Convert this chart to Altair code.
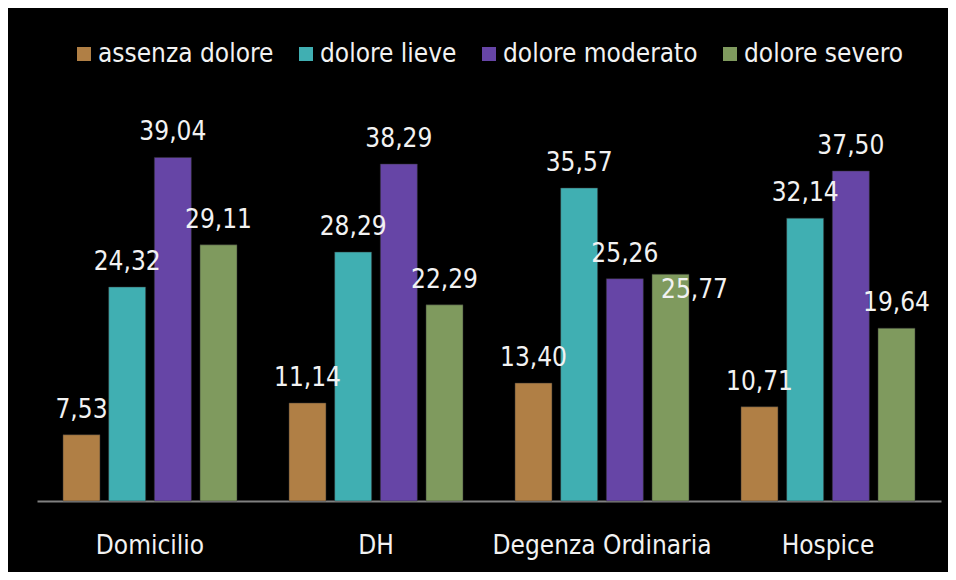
import altair as alt
import pandas as pd

categories = ["Domicilio", "DH", "Degenza Ordinaria", "Hospice"]
series = ["assenza dolore", "dolore lieve", "dolore moderato", "dolore severo"]
assenza = [7.53, 11.14, 13.40, 10.71]
lieve = [24.32, 28.29, 35.57, 32.14]
moderato = [39.04, 38.29, 25.26, 37.50]
severo = [29.11, 22.29, 25.77, 19.64]
colors = ["#B07F45", "#40AFB2", "#6645A6", "#7F9A5E"]

rows = []
for s, vals in zip(series, [assenza, lieve, moderato, severo]):
    for c, v in zip(categories, vals):
        rows.append({"cat": c, "serie": s, "val": v})
df = pd.DataFrame(rows)

FONT = "DejaVu Sans Condensed"
FS = 26

x = alt.X("cat:N", sort=categories, title=None,
          scale=alt.Scale(paddingInner=0.23, paddingOuter=0.115),
          axis=alt.Axis(labelAngle=0, ticks=False, domainColor="#808080", domainWidth=2,
                        labelColor="#F2F2F2", labelFont=FONT, labelFontSize=FS,
                        labelBaseline="alphabetic", labelPadding=52, grid=False,
                        labelLimit=400))
xo = alt.XOffset("serie:N", sort=series,
                 scale=alt.Scale(paddingInner=0.19, paddingOuter=0))
y = alt.Y("val:Q", scale=alt.Scale(domain=[0, 45], nice=False), axis=None)

bars = alt.Chart(df).mark_bar(strokeWidth=1, stroke="#333333", strokeOpacity=0.5).encode(
    x=x, xOffset=xo, y=y,
    color=alt.Color("serie:N", sort=series,
                    scale=alt.Scale(domain=series, range=colors),
                    legend=alt.Legend(title=None, orient="none", direction="horizontal",
                                      legendX=34, legendY=-64, padding=0,
                                      symbolType="square", symbolSize=196,
                                      symbolStrokeWidth=0, labelFont=FONT,
                                      labelFontSize=FS, labelColor="#F2F2F2",
                                      labelOffset=1, columnPadding=19,
                                      labelLimit=400)),
)

base_text = alt.Chart(df).transform_calculate(
    lab="replace(format(datum.val, '.2f'), '.', ',')"
)

labels = base_text.transform_filter("datum.val != 25.77").mark_text(
    font=FONT, fontSize=FS, color="#F2F2F2", baseline="alphabetic", dy=-17
).encode(x=alt.X("cat:N", sort=categories), xOffset=xo, y=y, text="lab:N")

label_special = base_text.transform_filter("datum.val == 25.77").mark_text(
    font=FONT, fontSize=FS, color="#F2F2F2", baseline="alphabetic", dx=24, dy=24
).encode(x=alt.X("cat:N", sort=categories), xOffset=xo, y=y, text="lab:N")

chart = alt.layer(bars, labels, label_special).properties(
    width=904, height=396,
    background="black",
    autosize=alt.AutoSizeParams(type="none"),
    padding={"left": 29, "top": 97, "right": 7, "bottom": 71},
).configure_view(stroke=None)

chart.save("out.html", embed_options={"renderer": "svg", "actions": False})
